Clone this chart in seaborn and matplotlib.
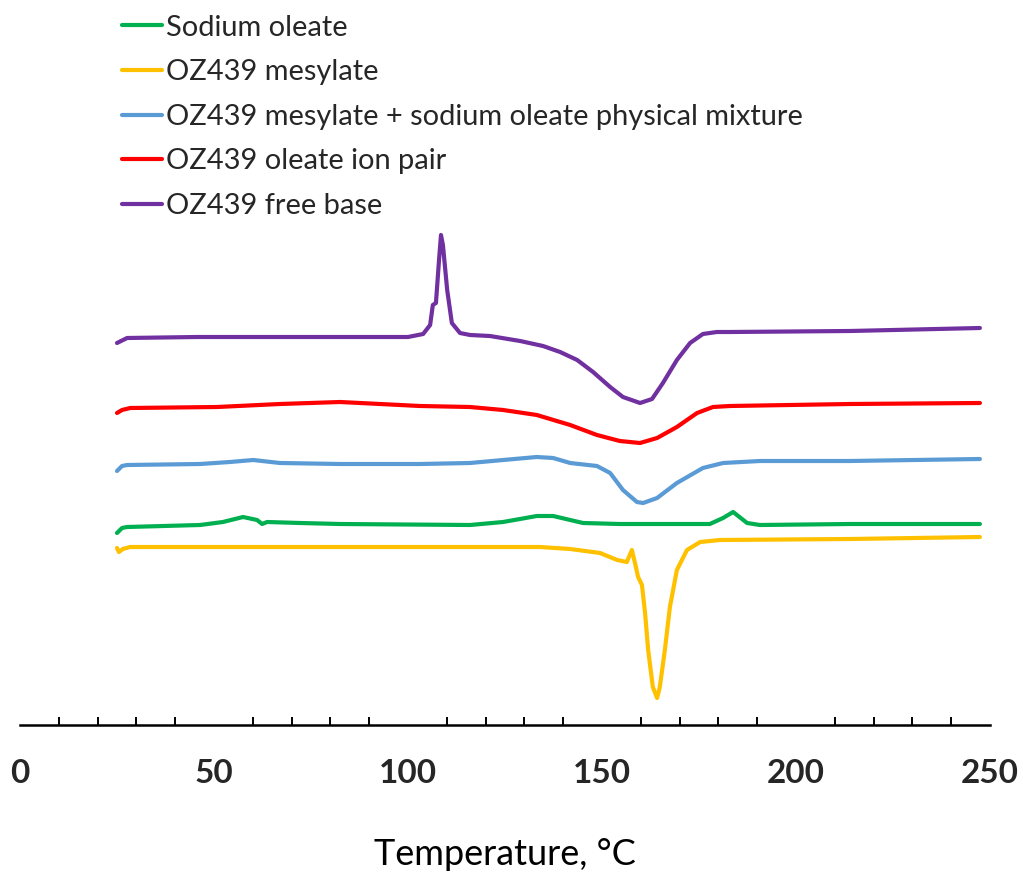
import numpy as np
import pandas as pd
import matplotlib
matplotlib.use("Agg")
import matplotlib.pyplot as plt
import seaborn as sns

# ---- data (temperature in °C, heat flow in arbitrary offset units) ----
series_names = [
    "Sodium oleate",
    "OZ439 mesylate",
    "OZ439 mesylate + sodium oleate physical mixture",
    "OZ439 oleate ion pair",
    "OZ439 free base",
]
series_colors = ["#00B050", "#FFC000", "#5B9BD5", "#FF0000", "#7030A0"]

green_T = [25.0, 26.3, 27.6, 46.4, 52.3, 57.5, 61.1, 62.4, 63.7, 72.2, 82.5, 116.0, 124.5, 133.2,
           137.4, 145.1, 154.6, 177.8, 181.2, 182.5, 183.8, 185.1, 187.4, 190.7, 213.9, 247.4]
green_y = [192, 197, 198, 200, 203, 208, 205, 201, 203, 202, 201, 200, 203, 209,
           209, 202, 201, 201, 207, 210, 213, 209, 202, 200, 201, 201]

yellow_T = [25.0, 25.5, 26.5, 28.4, 97.9, 134.0, 141.8, 149.5, 153.9, 156.4, 157.7, 158.5, 159.3,
            160.3, 161.1, 161.9, 163.1, 164.2, 164.9, 166.2, 167.5, 169.3, 171.9, 175.3, 180.4,
            213.9, 247.4]
yellow_y = [177, 173, 176, 178, 178, 178, 176, 172, 165, 163, 175, 162, 148,
            140, 112, 75, 38, 27, 38, 75, 118, 155, 175, 183, 185,
            186, 188]

blue_T = [25.0, 26.3, 27.6, 46.4, 54.1, 60.1, 67.0, 82.5, 103.1, 116.0, 124.5, 133.2, 137.4, 141.8,
          148.7, 152.1, 155.4, 159.0, 160.6, 164.2, 169.3, 176.0, 181.2, 190.7, 213.9, 247.4]
blue_y = [254, 259, 260, 261, 263, 265, 262, 261, 261, 262, 265, 268, 267, 262,
          259, 252, 235, 223, 222, 227, 242, 257, 262, 264, 264, 266]

red_T = [25.0, 26.3, 28.4, 50.8, 67.0, 82.5, 103.1, 116.0, 124.5, 133.2, 141.8, 148.7, 154.6,
         159.8, 164.2, 169.3, 174.5, 178.6, 183.0, 213.9, 247.4]
red_y = [312, 315, 317, 318, 321, 323, 319, 318, 315, 310, 300, 290, 284,
         282, 287, 298, 312, 318, 319, 321, 322]

purple_T = [25.0, 27.6, 45.6, 82.5, 100.0, 103.9, 105.7, 106.4, 107.2, 108.0, 108.5, 109.0, 110.1,
            111.3, 113.4, 116.0, 121.1, 128.9, 134.8, 139.2, 143.6, 147.7, 152.1, 155.4, 159.8,
            162.9, 165.7, 169.3, 172.7, 176.0, 179.6, 183.0, 213.9, 247.4]
purple_y = [382, 387, 388, 388, 388, 391, 400, 420, 422, 465, 490, 480, 435,
            402, 392, 390, 389, 384, 379, 373, 365, 353, 338, 328, 322,
            326, 342, 365, 382, 391, 393, 393, 394, 397]

x_ticks = [0, 50, 100, 150, 200, 250]
x_label = "Temperature, °C"

# ---- build long-form table ----
all_T = [green_T, yellow_T, blue_T, red_T, purple_T]
all_y = [green_y, yellow_y, blue_y, red_y, purple_y]
frames = []
for name, T, y in zip(series_names, all_T, all_y):
    frames.append(pd.DataFrame({"T": T, "heat": y, "sample": name}))
df = pd.concat(frames, ignore_index=True)

sns.set_theme(style="white")
plt.rcParams["font.family"] = ["Lato", "DejaVu Sans"]
plt.rcParams["lines.solid_joinstyle"] = "round"
plt.rcParams["lines.solid_capstyle"] = "round"

fig = plt.figure(figsize=(10.23, 8.72), dpi=100)
ax = fig.add_axes([20 / 1023, 147 / 872, 970 / 1023, 510 / 872])

sns.lineplot(data=df, x="T", y="heat", hue="sample", hue_order=series_names,
             palette=series_colors, sort=False, estimator=None, linewidth=3.0,
             ax=ax, legend=False)

ax.set_xlim(0, 250)
ax.set_ylim(0, 510)
ax.set_xticks(x_ticks)
ax.set_xticks(np.arange(0, 251, 10), minor=True)
ax.set_yticks([])
for s in ["top", "left", "right"]:
    ax.spines[s].set_visible(False)
ax.spines["bottom"].set_linewidth(1.8)
ax.spines["bottom"].set_color("black")
ax.tick_params(axis="x", which="major", direction="inout", length=17, width=1.6,
               color="black", pad=16, labelsize=24)
ax.tick_params(axis="x", which="minor", direction="in", length=6, width=1.4, color="black",
               bottom=True)
for lab in ax.get_xticklabels():
    lab.set_fontweight("bold")
ax.set_xlabel(x_label, fontsize=26, labelpad=36, color="black")
ax.set_ylabel("")

handles = [plt.Line2D([], [], color=c, linewidth=3.0) for c in series_colors]
fig.legend(handles, series_names, loc="upper left", bbox_to_anchor=(110 / 1023, 1 - 3 / 872),
           frameon=False, fontsize=20.9, handlelength=1.38, handletextpad=0.14,
           labelspacing=0.64, borderaxespad=0)

fig.savefig("out.png", dpi=100)
